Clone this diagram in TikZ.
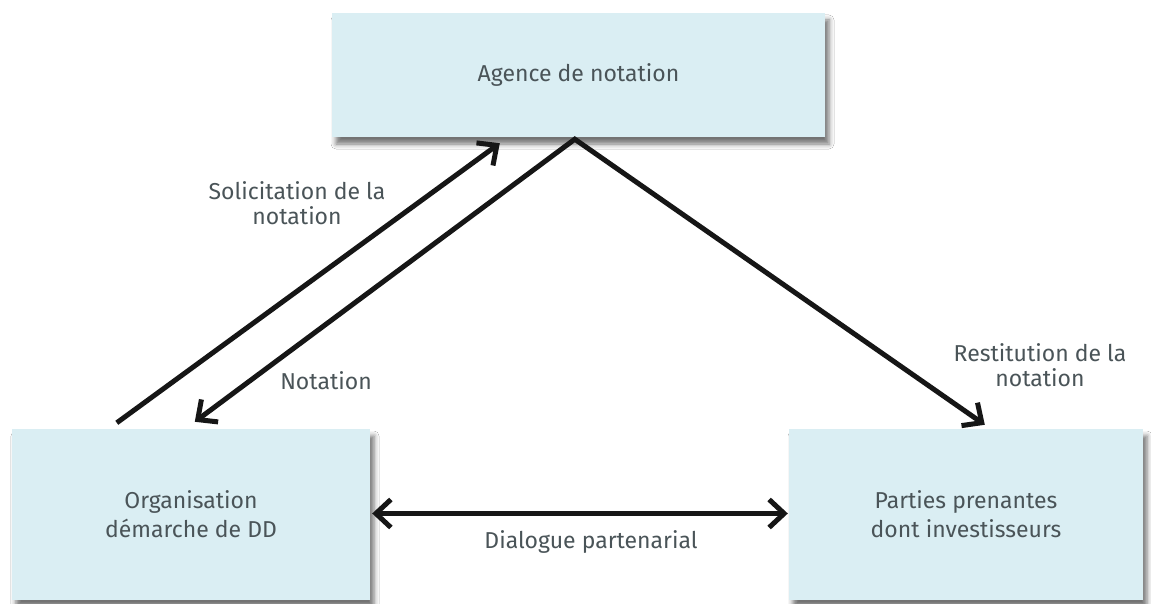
\documentclass[tikz,border=0pt]{standalone}
\usepackage{fontspec}
\setmainfont{Fira Sans}
\usetikzlibrary{arrows.meta,calc,shadows.blur}
\definecolor{boxfill}{RGB}{218,238,243}
\definecolor{txt}{RGB}{74,84,88}
\definecolor{arrowc}{RGB}{22,22,22}
\begin{document}
\begin{tikzpicture}[x=1pt,y=-1pt,
  actor/.style={rectangle, fill=boxfill, inner sep=0pt, align=center,
    text=txt, font=\fontsize{23}{29}\selectfont,
    blur shadow={shadow xshift=4pt, shadow yshift=-7pt,
      shadow blur radius=5pt, shadow opacity=55}},
  lbl/.style={text=txt, align=center, font=\fontsize{23}{25}\selectfont, inner sep=0pt},
  flow/.style={draw=arrowc, line width=5pt, line join=miter,
    -{Straight Barb[length=15pt,width=28pt]}},
  flow2/.style={draw=arrowc, line width=5pt, line join=miter,
    {Straight Barb[length=15pt,width=28pt]}-{Straight Barb[length=15pt,width=28pt]}}
]
\useasboundingbox (0,0) rectangle (1151,604);
\fill[white] (0,0) rectangle (1151,604);

% the three parties
\node[actor, minimum width=493pt, minimum height=124pt] (agence) at (578.5,75) {Agence de notation};
\node[actor, minimum width=358pt, minimum height=171pt] (org) at (191,514.5) {Organisation\\d\'emarche de DD};
\node[actor, minimum width=354pt, minimum height=171pt] (parties) at (966,514.5) {Parties prenantes\\dont investisseurs};

% anchor points of the flows
\coordinate (peak) at ($(agence.south west)+(243,2)$);
\coordinate (solStart) at ($(org.north west)+(105,-6)$);
\coordinate (solEnd) at ($(agence.south west)+(168,6)$);
\coordinate (notEnd) at ($(org.north west)+(183,-7)$);
\coordinate (resEnd) at ($(parties.north west)+(196,-4)$);

% flows
\draw[flow] (solStart) -- (solEnd);
\draw[flow2] (notEnd) -- (peak) -- (resEnd);
\draw[flow2] ($(org.east)+(2,-1)$) -- ($(parties.west)+(-1,-1)$);

% flow labels
\node[lbl] (lsol) at (297,203) {Solicitation de la\\notation};
\node[lbl] (lnot) at (326,381) {Notation};
\node[lbl] (lres) at (1040,365) {Restitution de la\\notation};
\node[lbl] (ldia) at (591,542) {Dialogue partenarial};
\end{tikzpicture}
\end{document}
